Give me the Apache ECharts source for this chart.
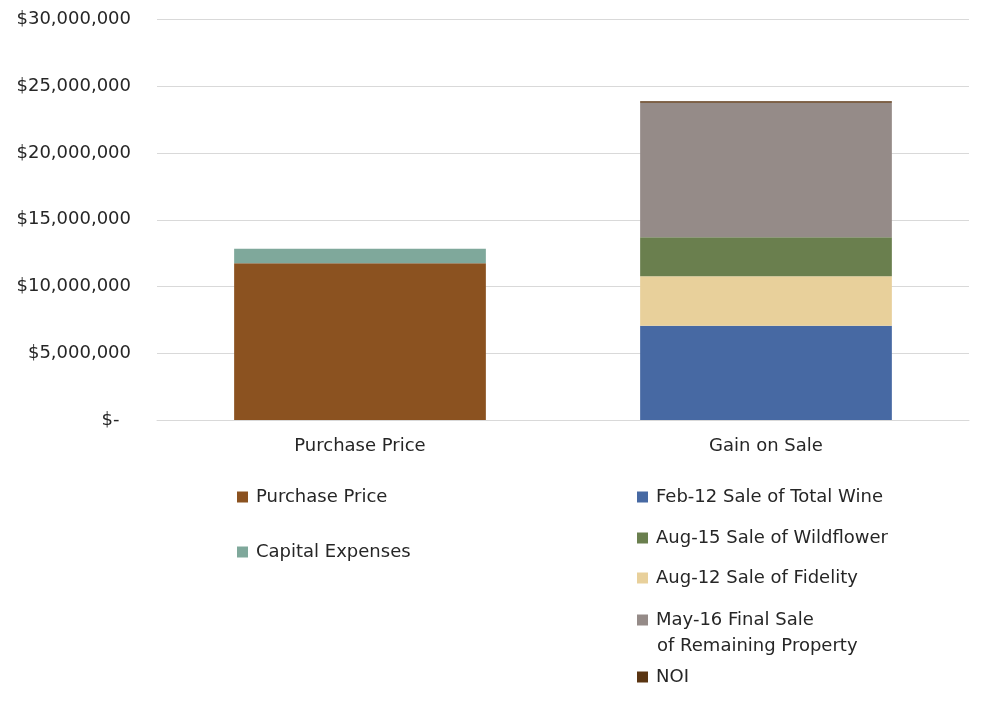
<!DOCTYPE html>
<html>
<head>
<meta charset="utf-8">
<script src="https://cdn.jsdelivr.net/npm/echarts@6/dist/echarts.min.js"></script>
<style>
  html, body { margin: 0; padding: 0; background: #fff; }
  #chart { width: 989px; height: 708px; }
</style>
</head>
<body>
<div id="chart"></div>
<script>
// data (USD)
const categories = ['Purchase Price', 'Gain on Sale']
const purchasePrice = [11740000, 0]
const capitalExpenses = [1090000, 0]
const saleTotalWine = [0, 7060000]
const saleFidelity = [0, 3700000]
const saleWildflower = [0, 2930000]
const finalSale = [0, 10080000]
const noi = [0, 110000]

const fontFamily = '"DejaVu Sans", sans-serif'
const textColor = '#262626'
const gridColor = '#d9d9d9'

const seriesDefs = [
  { name: 'Purchase Price', data: purchasePrice, color: '#8b5220' },
  { name: 'Capital Expenses', data: capitalExpenses, color: '#7fa89b' },
  { name: 'Feb-12 Sale of Total Wine', data: saleTotalWine, color: '#4769a3' },
  { name: 'Aug-12 Sale of Fidelity', data: saleFidelity, color: '#e8d09b' },
  { name: 'Aug-15 Sale of Wildflower', data: saleWildflower, color: '#6a7f4e' },
  { name: 'May-16 Final Sale of Remaining Property', data: finalSale, color: '#958b88' },
  { name: 'NOI', data: noi, color: '#5a3512' }
]

const money = (v) => {
  if (v === 0) return '$-  '
  return '$' + v.toLocaleString('en-US')
}

// one legend per entry so each sits where it does in the picture
const legendSpots = [
  { name: 'Purchase Price', left: 237, top: 488 },
  { name: 'Capital Expenses', left: 237, top: 543 },
  { name: 'Feb-12 Sale of Total Wine', left: 637, top: 488 },
  { name: 'Aug-15 Sale of Wildflower', left: 637, top: 529 },
  { name: 'Aug-12 Sale of Fidelity', left: 637, top: 569 },
  { name: 'May-16 Final Sale of Remaining Property', left: 637, top: 611 },
  { name: 'NOI', left: 637, top: 668 }
]

const legends = legendSpots.map((item) => ({
  data: [item.name],
  left: item.left,
  top: item.top,
  padding: 0,
  icon: 'rect',
  itemWidth: 11,
  itemHeight: 11,
  itemGap: 8,
  selectedMode: false,
  // the long name wraps; its 2nd line is drawn below as a graphic text
  formatter: (name) => name.startsWith('May-16') ? 'May-16 Final Sale' : name,
  textStyle: { fontFamily: fontFamily, fontSize: 18, color: textColor, padding: [0, 0, 0, 3] }
}))

const chart = echarts.init(document.getElementById('chart'))
chart.setOption({
  animation: false,
  backgroundColor: '#fff',
  textStyle: { fontFamily: fontFamily },
  grid: { left: 157, right: 20, top: 19.5, bottom: 288 },
  legend: legends,
  graphic: [{
    type: 'text',
    left: 657,
    top: 637,
    style: {
      text: 'of Remaining Property',
      fontFamily: fontFamily,
      fontSize: 18,
      fill: textColor
    }
  }],
  xAxis: {
    type: 'category',
    data: categories,
    axisLine: { lineStyle: { color: gridColor, width: 1 } },
    axisTick: { show: false },
    axisLabel: { fontSize: 18, color: textColor, margin: 17 }
  },
  yAxis: {
    type: 'value',
    min: 0,
    max: 30000000,
    interval: 5000000,
    axisLine: { show: false },
    axisTick: { show: false },
    splitLine: { lineStyle: { color: gridColor, width: 1 } },
    axisLabel: { fontSize: 18, color: textColor, margin: 26, formatter: money }
  },
  series: seriesDefs.map((s) => ({
    name: s.name,
    type: 'bar',
    stack: 'total',
    barWidth: '62%',
    itemStyle: { color: s.color },
    data: s.data
  }))
})
</script>
</body>
</html>
